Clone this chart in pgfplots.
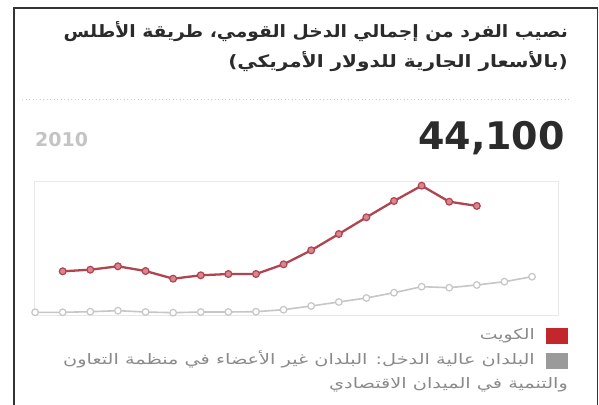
\documentclass[border=0pt]{standalone}
\usepackage{pgfplots}
\pgfplotsset{compat=1.18}
\usepackage{fontspec}
\setmainfont{DejaVu Sans}
\newfontfamily\arabicfont[Script=Arabic]{DejaVu Sans}
\TeXXeTstate=1
\definecolor{kwline}{HTML}{B04450}
\definecolor{kwfill}{HTML}{D9868F}
\definecolor{hiline}{HTML}{C6C6C6}
\definecolor{kwkey}{HTML}{C1272D}
\definecolor{hikey}{HTML}{9A9A9A}
\definecolor{titlec}{HTML}{2B2B2B}
\definecolor{legc}{HTML}{8A8A8A}

\pgfplotstableread{
year kuwait
1995 18600
1996 19230
1997 20550
1998 18720
1999 15720
2000 17040
2001 17550
2002 17550
2003 21330
2004 26790
2005 33150
2006 39660
2007 46020
2008 51990
2009 45750
2010 44100
}\kuwait

\pgfplotstableread{
year hi
1994 2610
1995 2610
1996 2850
1997 3240
1998 2730
1999 2460
2000 2730
2001 2730
2002 2850
2003 3630
2004 5070
2005 6630
2006 8190
2007 10260
2008 12600
2009 12210
2010 13260
2011 14550
2012 16500
}\highinc

\begin{document}
\begin{tikzpicture}[x=1pt,y=1pt]
\useasboundingbox (0,0) rectangle (599,404);
\fill[white] (0,0) rectangle (599,404);
\draw[black!80, line width=1.3pt] (14,-5) -- (14,396) -- (597.5,396) -- (597.5,-5);

% title
\node[anchor=base east, inner sep=0pt, text=titlec, font=\arabicfont\bfseries\fontsize{17}{20}\selectfont] at (568,366) {\scalebox{1.1}[1]{\beginR نصيب الفرد من إجمالي الدخل القومي، طريقة الأطلس\endR}};
\node[anchor=base east, inner sep=0pt, text=titlec, font=\arabicfont\bfseries\fontsize{17}{20}\selectfont] at (568,336) {\scalebox{1.18}[1]{\beginR (بالأسعار الجارية للدولار الأمريكي)\endR}};
\draw[black!20, line width=1pt, dash pattern=on 1pt off 2.5pt] (22,304) -- (570,304);

\node[anchor=base west, inner sep=0pt, text=black!23, font=\bfseries\fontsize{19}{21}\selectfont] at (35,257) {2010};
\node[anchor=base east, inner sep=0pt, text=titlec, font=\bfseries\fontsize{38}{42}\selectfont] at (565,254) {44,100};

\begin{axis}[
  at={(34pt,89pt)}, anchor=south west,
  scale only axis, width=523.7pt, height=133.3pt,
  xmin=1993.96, xmax=2012.93, ymin=1560, ymax=53550,
  axis line style={draw=black!9},
  ticks=none, clip=false,
]
\addplot[hiline, line width=1.6pt, mark=*, mark size=3.3pt,
  mark options={draw=hiline, fill=white, line width=1.2pt}] table[x=year, y=hi] {\highinc};
\addplot[kwline, line width=2.3pt, mark=*, mark size=3.4pt,
  mark options={draw=kwline, fill=kwfill, line width=1.2pt}] table[x=year, y=kuwait] {\kuwait};
\end{axis}

% legend
\fill[kwkey] (546,60) rectangle (568,76);
\fill[hikey] (546,35) rectangle (568,51);
\node[anchor=base east, inner sep=0pt, text=legc, font=\arabicfont\fontsize{14.5}{16}\selectfont] at (535,64) {\scalebox{1.3}[1]{\beginR الكويت\endR}};
\node[anchor=base east, inner sep=0pt, text=legc, font=\arabicfont\fontsize{14.5}{16}\selectfont] at (535,39) {\scalebox{1.33}[1]{\beginR البلدان عالية الدخل: البلدان غير الأعضاء في منظمة التعاون\endR}};
\node[anchor=base east, inner sep=0pt, text=legc, font=\arabicfont\fontsize{14.5}{16}\selectfont] at (568,16) {\scalebox{1.33}[1]{\beginR والتنمية في الميدان الاقتصادي\endR}};
\end{tikzpicture}
\end{document}
